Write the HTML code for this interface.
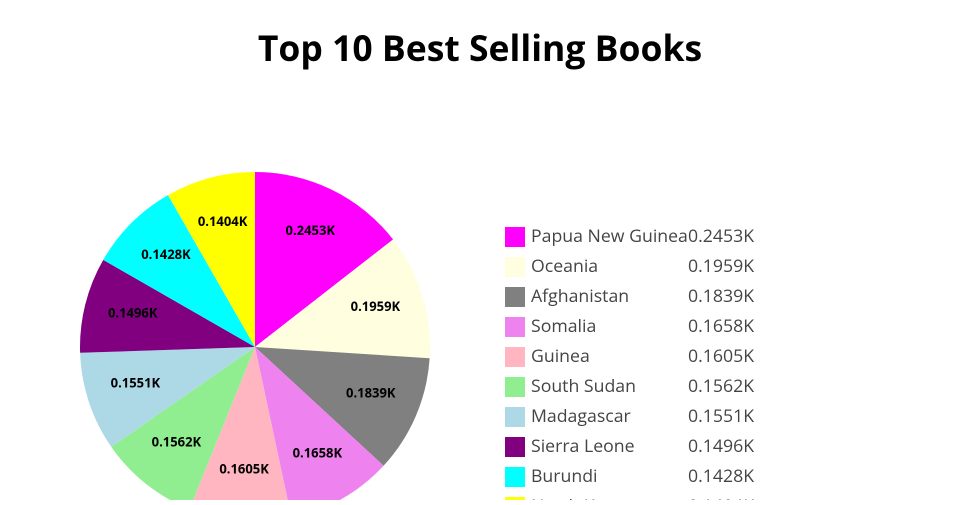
<!DOCTYPE html>
<html><head><meta charset="utf-8"><style>
body{margin:0;background:#fff;width:960px;height:500px;overflow:hidden;font-family:"Open Sans","DejaVu Sans","Liberation Sans",sans-serif}
</style></head><body>
<svg id="c" width="960" height="500">
<text x="480" y="61" text-anchor="middle" font-size="35.5" font-weight="bold" fill="#000">Top 10 Best Selling Books</text>
</svg>
<script>
const categories=["Papua New Guinea","Oceania","Afghanistan","Somalia","Guinea","South Sudan","Madagascar","Sierra Leone","Burundi","North Korea"];
const values=[245.3,195.9,183.9,165.8,160.5,156.2,155.1,149.6,142.8,140.4];
const labels=["0.2453K","0.1959K","0.1839K","0.1658K","0.1605K","0.1562K","0.1551K","0.1496K","0.1428K","0.1404K"];
const colors=["#ff00ff","#ffffe0","#808080","#ee82ee","#ffb6c1","#90ee90","#add8e6","#800080","#00ffff","#ffff00"];
const svg=document.getElementById('c');const NS="http://www.w3.org/2000/svg";
const cx=255,cy=347,r=175;const total=values.reduce((a,b)=>a+b,0);
function pt(a,rr){return [cx+rr*Math.sin(a),cy-rr*Math.cos(a)];}
let acc=0;
values.forEach((v,i)=>{
 const a0=acc/total*2*Math.PI;acc+=v;const a1=acc/total*2*Math.PI;
 const p0=pt(a0,r),p1=pt(a1,r);
 const p=document.createElementNS(NS,'path');
 p.setAttribute('d',`M${cx},${cy}L${p0[0]},${p0[1]}A${r},${r} 0 ${a1-a0>Math.PI?1:0} 1 ${p1[0]},${p1[1]}Z`);
 p.setAttribute('fill',colors[i]);
 
 
 svg.appendChild(p);
 const m=pt((a0+a1)/2,r*0.72);
 const t=document.createElementNS(NS,'text');
 t.setAttribute('x',m[0]);t.setAttribute('y',m[1]+1);t.setAttribute('text-anchor','middle');
 t.setAttribute('font-size','13');t.setAttribute('font-weight','bold');t.textContent=labels[i];
 
 
 svg.appendChild(t);
 const y=236+i*30;
 const s=document.createElementNS(NS,'rect');
 s.setAttribute('x',505);s.setAttribute('y',y-9);s.setAttribute('width',20);s.setAttribute('height',20);s.setAttribute('fill',colors[i]);
 
 
 svg.appendChild(s);
 const n=document.createElementNS(NS,'text');
 n.setAttribute('x',531);n.setAttribute('y',y+6);n.setAttribute('font-size','17.7');n.setAttribute('fill','#444');n.textContent=categories[i];
 
 
 svg.appendChild(n);
 const vv=document.createElementNS(NS,'text');
 vv.setAttribute('x',688);vv.setAttribute('y',y+6);vv.setAttribute('font-size','17.7');vv.setAttribute('fill','#444');vv.textContent=labels[i];
 
 
 svg.appendChild(vv);
});
</script>
</body></html>
